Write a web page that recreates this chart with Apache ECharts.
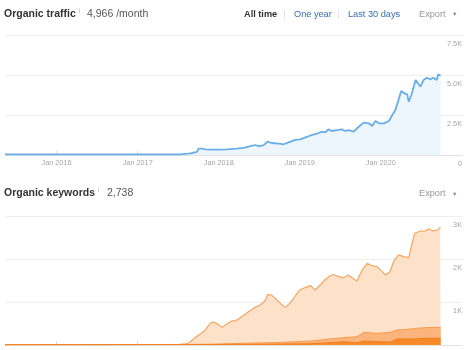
<!DOCTYPE html>
<html>
<head>
<meta charset="utf-8">
<script src="https://cdn.jsdelivr.net/npm/echarts@6/dist/echarts.min.js"></script>
<style>
html,body{margin:0;padding:0;background:#fff;}
#chart{width:469px;height:350px;}
</style>
</head>
<body>
<div id="chart"></div>
<script>
// ---- Data ----
const yearTicks = ['2016-01-01','2017-01-01','2018-01-01','2019-01-01','2020-01-01'];
const trafficTicks = [0, 2500, 5000, 7500];
const keywordTicks = [0, 1000, 2000, 3000];

const trafficDates = ['2015-05-14','2016-07-16','2017-07-11','2017-08-26','2017-09-25','2017-10-02','2017-10-17','2017-11-02','2017-11-24','2018-01-02','2018-02-09','2018-03-23','2018-04-23','2018-05-15','2018-06-14','2018-06-29','2018-07-21','2018-08-09','2018-08-28','2018-09-28','2018-10-20','2018-11-12','2018-12-12','2019-01-04','2019-01-27','2019-02-19','2019-03-19','2019-04-11','2019-04-26','2019-05-10','2019-05-25','2019-06-17','2019-07-10','2019-07-24','2019-08-09','2019-09-01','2019-09-16','2019-10-16','2019-11-08','2019-11-23','2019-12-08','2019-12-23','2020-01-15','2020-02-07','2020-02-22','2020-03-07','2020-03-14','2020-04-02','2020-04-17','2020-04-29','2020-05-06','2020-05-18','2020-06-06','2020-06-13','2020-06-28','2020-07-12','2020-07-27','2020-08-12','2020-08-24','2020-09-09','2020-09-16','2020-09-27'];
const trafficValues = [40,40,40,100,190,400,400,350,330,330,350,400,440,520,625,560,600,830,750,710,670,790,940,980,1100,1220,1330,1460,1420,1600,1500,1560,1600,1500,1560,1460,1670,2020,1980,1810,2125,1980,1980,2125,2500,2810,2710,4000,3850,3790,3330,3750,4690,4790,4270,4690,4830,4730,4830,4690,5040,4966];

const keywordDates = ['2015-05-14','2016-07-16','2017-07-11','2017-08-08','2017-08-26','2017-09-18','2017-10-10','2017-10-28','2017-11-17','2017-12-02','2017-12-17','2018-01-02','2018-01-17','2018-02-09','2018-03-01','2018-03-16','2018-04-08','2018-05-01','2018-05-23','2018-06-14','2018-07-07','2018-07-29','2018-08-09','2018-08-28','2018-09-21','2018-10-13','2018-10-28','2018-11-20','2018-12-12','2019-01-01','2019-01-27','2019-02-19','2019-03-11','2019-04-03','2019-04-26','2019-05-18','2019-06-02','2019-06-25','2019-07-17','2019-08-09','2019-08-24','2019-09-16','2019-10-09','2019-11-01','2019-11-23','2019-12-15','2020-01-08','2020-01-22','2020-02-11','2020-02-29','2020-03-21','2020-04-13','2020-05-06','2020-05-21','2020-06-02','2020-06-28','2020-07-20','2020-08-05','2020-08-20','2020-09-12','2020-09-24','2020-09-27'];
const keywordsTotal = [10,10,15,25,77,180,256,325,465,535,520,465,410,500,560,560,635,720,800,875,930,1030,1175,1160,1045,930,875,985,1140,1280,1340,1380,1280,1395,1525,1610,1640,1590,1565,1630,1565,1490,1745,1900,1845,1820,1705,1630,1705,1955,2095,2055,2030,2365,2600,2650,2655,2700,2655,2670,2730,2738];

const bandDates = ['2015-05-14','2017-07-11','2017-11-17','2018-05-01','2018-10-06','2019-02-19','2019-05-18','2019-07-17','2019-09-09','2019-09-24','2019-10-16','2019-12-15','2020-02-14','2020-03-14','2020-05-13','2020-06-13','2020-07-12','2020-07-27','2020-09-27'];
const keywordsMid = [8,12,18,40,60,93,140,170,190,215,295,270,295,350,370,390,400,405,410];
const keywordsTop = [5,8,10,15,22,30,55,77,55,60,93,77,70,140,140,145,155,155,155];

// ---- helpers ----
const ts = d => new Date(d + 'T00:00:00Z').getTime();
const pairs = (ds, vs) => ds.map((d, i) => [ts(d), vs[i]]);
const xMin = ts('2015-05-14');
const xMax = ts('2021-01-01');
const yearVals = yearTicks.map(ts);
const FONT = 'Liberation Sans, Arial, sans-serif';
const axisGray = '#a6a6a6';

function makeX(gridIndex) {
  return {
    type: 'value', gridIndex, min: xMin, max: xMax, scale: true,
    axisLine: { show: true, lineStyle: { color: '#e3e3e3', width: 1 } },
    axisTick: { show: true, inside: true, length: 4, customValues: yearVals, lineStyle: { color: '#dcdcdc' } },
    axisLabel: {
      show: true, customValues: yearVals, margin: 4, color: axisGray,
      fontSize: 7.3, fontFamily: FONT,
      formatter: v => 'Jan ' + new Date(v).getUTCFullYear()
    },
    splitLine: { show: false }
  };
}
function makeY(gridIndex, ticks, fmt) {
  return {
    type: 'value', gridIndex, position: 'right',
    min: ticks[0], max: ticks[ticks.length - 1], interval: ticks[1] - ticks[0],
    axisLine: { show: false }, axisTick: { show: false },
    axisLabel: {
      inside: true, margin: 0, color: axisGray, fontSize: 7.3, fontFamily: FONT,
      verticalAlign: 'top', padding: [5, 0, 0, 0], formatter: fmt
    },
    splitLine: { show: true, lineStyle: { color: '#efefef', width: 1 } }
  };
}

const chart = echarts.init(document.getElementById('chart'), null, { renderer: 'canvas' });
const hdr = (x, y, text, size, color, weight) => ({
  type: 'text', x, y, silent: true,
  style: { text, fill: color, font: (weight || 'normal') + ' ' + size + 'px ' + FONT, verticalAlign: 'middle', align: 'left' }
});
const sep = x => ({ type: 'line', silent: true, shape: { x1: x, y1: 9.5, x2: x, y2: 18.5 }, style: { stroke: '#e2e2e2', lineWidth: 1 } });

chart.setOption({
  animation: false,
  backgroundColor: '#fff',
  grid: [
    { left: 5, right: 7, top: 35, height: 120, outerBoundsMode: 'none', containLabel: false },
    { left: 5, right: 7, top: 216, height: 129, outerBoundsMode: 'none', containLabel: false }
  ],
  xAxis: [makeX(0), makeX(1)],
  yAxis: [
    makeY(0, trafficTicks, v => v === 0 ? '0' : (v / 1000).toFixed(1) + 'K'),
    makeY(1, keywordTicks, v => v === 0 ? '0' : (v / 1000) + 'K')
  ],
  graphic: [
    hdr(4, 14, 'Organic traffic', 10.5, '#333', 'bold'),
    hdr(79, 11, 'i', 6.5, '#b5b5b5'),
    hdr(87, 14, '4,966 /month', 10.5, '#555'),
    hdr(244, 14, 'All time', 9.2, '#333', 'bold'),
    sep(284.5),
    hdr(294, 14, 'One year', 9.2, '#3b6db3'),
    sep(338.5),
    hdr(348, 14, 'Last 30 days', 9.2, '#3b6db3'),
    hdr(419, 14, 'Export', 9.2, '#999'),
    hdr(452, 14.5, '▼', 5.5, '#888'),
    hdr(4, 193.5, 'Organic keywords', 10.5, '#333', 'bold'),
    hdr(98, 190.5, 'i', 6.5, '#b5b5b5'),
    hdr(107, 193.5, '2,738', 10.5, '#555'),
    hdr(419, 193.5, 'Export', 9.2, '#999'),
    hdr(452, 194, '▼', 5.5, '#888')
  ],
  series: [
    {
      name: 'Organic traffic', type: 'line', xAxisIndex: 0, yAxisIndex: 0,
      data: pairs(trafficDates, trafficValues), symbol: 'none', showSymbol: false,
      lineStyle: { color: '#6aade6', width: 1.8 },
      areaStyle: { color: '#eef6fd', opacity: 1 }
    },
    {
      name: 'Keywords total', type: 'line', xAxisIndex: 1, yAxisIndex: 1,
      data: pairs(keywordDates, keywordsTotal), symbol: 'none', showSymbol: false,
      lineStyle: { color: '#f5a664', width: 1.2 },
      areaStyle: { color: '#fde1c8', opacity: 1 }
    },
    {
      name: 'Keywords mid', type: 'line', xAxisIndex: 1, yAxisIndex: 1,
      data: pairs(bandDates, keywordsMid), symbol: 'none', showSymbol: false,
      lineStyle: { color: '#f79b4c', width: 1 },
      areaStyle: { color: '#fbb47c', opacity: 1 }
    },
    {
      name: 'Keywords top', type: 'line', xAxisIndex: 1, yAxisIndex: 1,
      data: pairs(bandDates, keywordsTop), symbol: 'none', showSymbol: false,
      lineStyle: { color: '#f47d1c', width: 1 },
      areaStyle: { color: '#f78a28', opacity: 1 }
    }
  ]
});
</script>
</body>
</html>
